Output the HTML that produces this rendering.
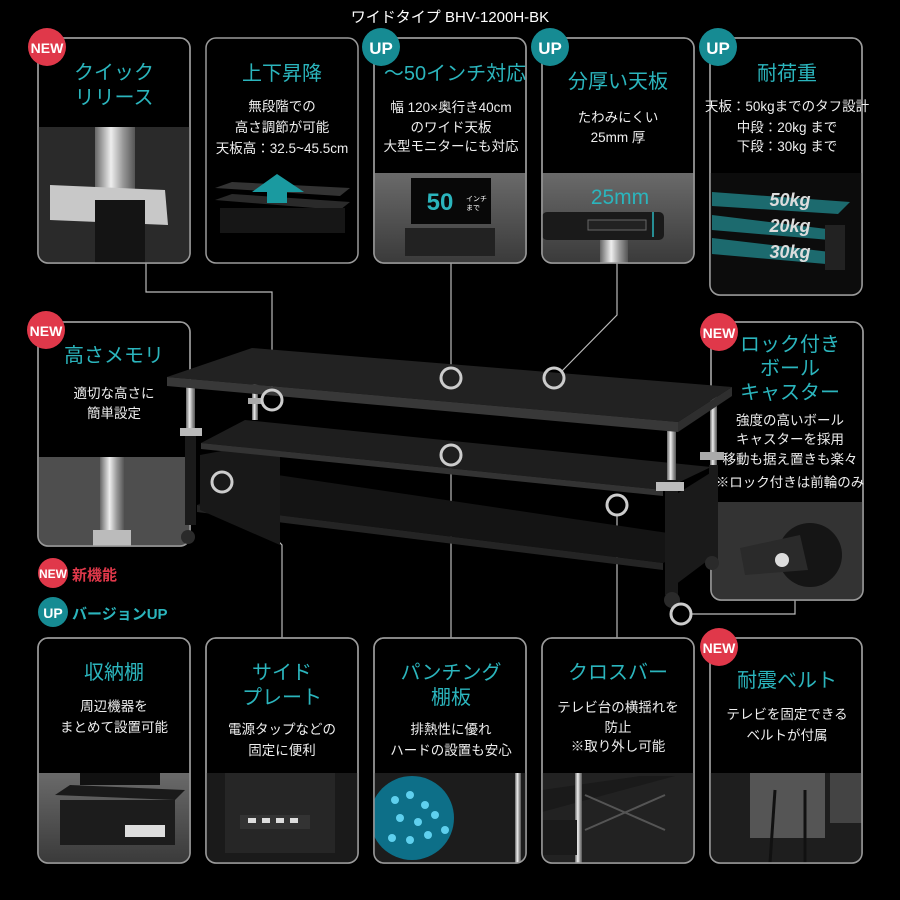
<!DOCTYPE html>
<html><head><meta charset="utf-8"><style>
html,body{margin:0;padding:0;background:#000;}
svg{display:block}
text{font-family:"Liberation Sans","Noto Sans CJK JP",sans-serif;}
.t{fill:#2bb5bd;font-size:20px;text-anchor:middle}
.b{fill:#eee;font-size:13.5px;text-anchor:middle}
.card{fill:#000;stroke:#9a9a9a;stroke-width:1.5}
.ln{stroke:#bbb;stroke-width:1.2;fill:none}
.cir{stroke:#ccc;stroke-width:3;fill:none}
.bdg{font-family:"Liberation Sans",sans-serif;font-weight:bold;fill:#fff;text-anchor:middle}
</style></head><body>
<svg width="900" height="900" viewBox="0 0 900 900" xmlns="http://www.w3.org/2000/svg">
<defs>
<linearGradient id="chrome" x1="0" x2="1"><stop offset="0" stop-color="#666"/><stop offset=".4" stop-color="#eee"/><stop offset=".7" stop-color="#999"/><stop offset="1" stop-color="#555"/></linearGradient>
<linearGradient id="grey" x1="0" y1="0" x2="0" y2="1"><stop offset="0" stop-color="#6a6a6a"/><stop offset="1" stop-color="#3a3a3a"/></linearGradient>
<clipPath id="c1"><rect x="38" y="38" width="152" height="225" rx="10"/></clipPath>
<clipPath id="c3"><rect x="374" y="38" width="152" height="225" rx="10"/></clipPath>
<clipPath id="c4"><rect x="542" y="38" width="152" height="225" rx="10"/></clipPath>
<clipPath id="c5"><rect x="710" y="38" width="152" height="257" rx="10"/></clipPath>
<clipPath id="cm1"><rect x="38" y="322" width="152" height="224" rx="10"/></clipPath>
<clipPath id="cm2"><rect x="711" y="322" width="152" height="278" rx="10"/></clipPath>
<clipPath id="b1"><rect x="38" y="638" width="152" height="225" rx="10"/></clipPath>
<clipPath id="b2"><rect x="206" y="638" width="152" height="225" rx="10"/></clipPath>
<clipPath id="b3"><rect x="374" y="638" width="152" height="225" rx="10"/></clipPath>
<clipPath id="b4"><rect x="542" y="638" width="152" height="225" rx="10"/></clipPath>
<clipPath id="b5"><rect x="710" y="638" width="152" height="225" rx="10"/></clipPath>
</defs>

<text x="450" y="22" fill="#fff" font-size="15" text-anchor="middle">ワイドタイプ BHV-1200H-BK</text>

<!-- connectors -->
<path class="ln" d="M146 263 V292 H272 V389"/>
<path class="ln" d="M451 263 V367"/>
<path class="ln" d="M617 263 V315 L562 371"/>
<path class="ln" d="M795 600 V614 H692"/>
<path class="ln" d="M451 466 V638"/>
<path class="ln" d="M282 638 V545 L230 491"/>
<path class="ln" d="M617 516 V638"/>

<!-- Top cards -->
<rect class="card" x="38" y="38" width="152" height="225" rx="10"/>
<g clip-path="url(#c1)"><rect x="38" y="127" width="152" height="136" fill="#2a2a2a"/><rect x="95" y="127" width="40" height="70" fill="url(#chrome)"/><polygon points="50,185 165,190 168,225 50,220" fill="#c8c8c8"/><rect x="95" y="200" width="50" height="63" fill="#141414"/></g>
<rect x="38" y="38" width="152" height="225" rx="10" fill="none" stroke="#9a9a9a" stroke-width="1.5"/>
<text class="t" x="114" y="79">クイック</text><text class="t" x="114" y="104">リリース</text>

<rect class="card" x="206" y="38" width="152" height="225" rx="10"/>
<text class="t" x="282" y="80">上下昇降</text>
<text class="b" x="282" y="111">無段階での</text><text class="b" x="282" y="132">高さ調節が可能</text><text class="b" x="282" y="153">天板高：32.5~45.5cm</text>
<polygon points="215,188 232,182 350,188 340,196" fill="#333"/>
<polygon points="215,200 232,194 350,202 340,210" fill="#2a2a2a"/>
<rect x="220" y="208" width="125" height="25" fill="#161616"/>
<polygon points="277,174 252,192 267,192 267,203 287,203 287,192 304,192" fill="#1a9aa0"/>

<rect class="card" x="374" y="38" width="152" height="225" rx="10"/>
<g clip-path="url(#c3)"><rect x="374" y="173" width="152" height="90" fill="url(#grey)"/><rect x="411" y="178" width="80" height="46" fill="#080808"/><rect x="405" y="228" width="90" height="28" fill="#222"/></g>
<rect x="374" y="38" width="152" height="225" rx="10" fill="none" stroke="#9a9a9a" stroke-width="1.5"/>
<text class="t" x="455" y="80" font-size="18">～50インチ対応</text>
<text class="b" x="451" y="112" font-size="13">幅 120×奥行き40cm</text><text class="b" x="451" y="132" font-size="13">のワイド天板</text><text class="b" x="451" y="151" font-size="13">大型モニターにも対応</text>
<text x="440" y="210" fill="#2bb5bd" font-size="24" font-weight="bold" text-anchor="middle">50</text>
<text x="466" y="201" fill="#fff" font-size="7">インチ</text><text x="466" y="210" fill="#fff" font-size="7">まで</text>

<rect class="card" x="542" y="38" width="152" height="225" rx="10"/>
<g clip-path="url(#c4)"><rect x="542" y="173" width="152" height="90" fill="url(#grey)"/><rect x="542" y="212" width="122" height="28" rx="5" fill="#1a1a1a"/><rect x="600" y="240" width="28" height="23" fill="url(#chrome)"/><rect x="588" y="220" width="58" height="10" fill="#222" stroke="#666"/></g>
<rect x="542" y="38" width="152" height="225" rx="10" fill="none" stroke="#9a9a9a" stroke-width="1.5"/>
<text class="t" x="618" y="88">分厚い天板</text>
<text class="b" x="618" y="122">たわみにくい</text><text class="b" x="618" y="142">25mm 厚</text>
<text x="620" y="204" fill="#2bb5bd" font-size="21" text-anchor="middle">25mm</text>
<line x1="653" y1="212" x2="653" y2="237" stroke="#2bb5bd" stroke-width="1.5"/>

<rect class="card" x="710" y="38" width="152" height="257" rx="10"/>
<g clip-path="url(#c5)"><rect x="710" y="173" width="152" height="122" fill="#0c0c0c"/>
<polygon points="712,192 850,202 838,214 712,206" fill="#1c6a6e"/>
<polygon points="712,215 835,230 830,240 712,230" fill="#1c6a6e"/>
<polygon points="712,238 830,252 826,264 712,254" fill="#1c6a6e"/>
<rect x="825" y="225" width="20" height="45" fill="#222"/>
<text x="790" y="206" fill="#ddd" font-size="18" font-weight="bold" font-style="italic" text-anchor="middle">50kg</text>
<text x="790" y="232" fill="#ddd" font-size="18" font-weight="bold" font-style="italic" text-anchor="middle">20kg</text>
<text x="790" y="258" fill="#ddd" font-size="18" font-weight="bold" font-style="italic" text-anchor="middle">30kg</text>
</g>
<rect x="710" y="38" width="152" height="257" rx="10" fill="none" stroke="#9a9a9a" stroke-width="1.5"/>
<text class="t" x="787" y="80">耐荷重</text>
<text class="b" x="787" y="111" font-size="12.5">天板：50kgまでのタフ設計</text><text class="b" x="787" y="132" font-size="13">中段：20kg まで</text><text class="b" x="787" y="151" font-size="13">下段：30kg まで</text>

<!-- middle left -->
<rect class="card" x="38" y="322" width="152" height="224" rx="10"/>
<g clip-path="url(#cm1)"><rect x="38" y="457" width="152" height="89" fill="#4e4e4e"/><rect x="100" y="457" width="24" height="75" fill="url(#chrome)"/><rect x="93" y="530" width="38" height="16" fill="#bbb"/></g>
<rect x="38" y="322" width="152" height="224" rx="10" fill="none" stroke="#9a9a9a" stroke-width="1.5"/>
<text class="t" x="114" y="362">高さメモリ</text>
<text class="b" x="114" y="398">適切な高さに</text><text class="b" x="114" y="418">簡単設定</text>

<!-- middle right -->
<rect class="card" x="711" y="322" width="152" height="278" rx="10"/>
<g clip-path="url(#cm2)"><rect x="711" y="502" width="152" height="98" fill="#333"/><circle cx="810" cy="555" r="32" fill="#151515"/><polygon points="740,548 800,535 808,570 745,575" fill="#2a2a2a"/><circle cx="782" cy="560" r="7" fill="#ddd"/></g>
<rect x="711" y="322" width="152" height="278" rx="10" fill="none" stroke="#9a9a9a" stroke-width="1.5"/>
<text class="t" x="790" y="351" font-size="21">ロック付き</text><text class="t" x="790" y="375" font-size="21">ボール</text><text class="t" x="790" y="399" font-size="21">キャスター</text>
<text class="b" x="790" y="425" font-size="13">強度の高いボール</text><text class="b" x="790" y="444" font-size="13">キャスターを採用</text><text class="b" x="790" y="464" font-size="13">移動も据え置きも楽々</text>
<text class="b" x="790" y="487" font-size="10.5">※ロック付きは前輪のみ</text>

<!-- table (drawn over cards) -->
<g>
<rect x="252" y="380" width="6" height="40" fill="url(#chrome)"/>
<rect x="710" y="395" width="7" height="70" fill="url(#chrome)"/>
<rect x="709" y="465" width="9" height="100" fill="#1a1a1a"/>
<polygon points="197,505 264,473 715,540 663,563" fill="#141414"/>
<polygon points="197,505 663,563 663,570 197,512" fill="#242424"/>
<polygon points="200,455 280,440 280,545 200,510" fill="#181818"/>
<polygon points="675,495 715,470 715,555 675,585" fill="#1a1a1a"/>
<polygon points="201,443 245,420 711,467 663,490" fill="#1e1e1e"/>
<polygon points="201,443 663,490 663,496 201,449" fill="#333"/>
<rect x="186" y="385" width="9" height="45" fill="url(#chrome)"/>
<rect x="185" y="430" width="11" height="95" fill="#1a1a1a"/>
<rect x="180" y="428" width="22" height="8" fill="#bbb"/>
<rect x="667" y="425" width="9" height="55" fill="url(#chrome)"/>
<rect x="665" y="480" width="13" height="115" fill="#1a1a1a"/>
<rect x="656" y="482" width="28" height="9" fill="#bbb"/>
<rect x="700" y="452" width="24" height="8" fill="#aaa"/>
<circle cx="188" cy="537" r="7" fill="#2a2a2a"/>
<circle cx="672" cy="600" r="8" fill="#2a2a2a"/>
<circle cx="712" cy="563" r="7" fill="#2a2a2a"/>
<rect x="248" y="398" width="14" height="6" fill="#aaa"/>
<polygon points="167,377 252,348 732,387 678,422" fill="#222"/>
<polygon points="167,377 678,422 678,432 167,386" fill="#383838"/>
<polygon points="678,422 732,387 732,396 678,432" fill="#2e2e2e"/>
</g>
<circle class="cir" cx="272" cy="400" r="10"/>
<circle class="cir" cx="451" cy="378" r="10"/>
<circle class="cir" cx="554" cy="378" r="10"/>
<circle class="cir" cx="451" cy="455" r="10"/>
<circle class="cir" cx="222" cy="482" r="10"/>
<circle class="cir" cx="617" cy="505" r="10"/>
<circle class="cir" cx="681" cy="614" r="10"/>

<!-- legend -->
<circle cx="53" cy="573" r="15" fill="#e0384a"/><text class="bdg" x="53" y="578" font-size="12">NEW</text>
<text x="72" y="580" fill="#e0384a" font-size="15" font-weight="bold">新機能</text>
<circle cx="53" cy="612" r="15" fill="#168b93"/><text class="bdg" x="53" y="618" font-size="14">UP</text>
<text x="72" y="619" fill="#2bb5bd" font-size="15" font-weight="bold">バージョンUP</text>

<!-- bottom cards -->
<rect class="card" x="38" y="638" width="152" height="225" rx="10"/>
<g clip-path="url(#b1)"><rect x="38" y="773" width="152" height="90" fill="url(#grey)"/><rect x="80" y="773" width="80" height="12" fill="#111"/><polygon points="55,795 70,785 185,790 175,800" fill="#1a1a1a"/><rect x="60" y="800" width="115" height="45" fill="#1c1c1c"/><rect x="125" y="825" width="40" height="12" fill="#ddd"/></g>
<rect x="38" y="638" width="152" height="225" rx="10" fill="none" stroke="#9a9a9a" stroke-width="1.5"/>
<text class="t" x="114" y="679">収納棚</text>
<text class="b" x="114" y="711">周辺機器を</text><text class="b" x="114" y="732">まとめて設置可能</text>

<rect class="card" x="206" y="638" width="152" height="225" rx="10"/>
<g clip-path="url(#b2)"><rect x="206" y="773" width="152" height="90" fill="#1a1a1a"/><rect x="225" y="773" width="110" height="80" fill="#262626"/><rect x="240" y="815" width="70" height="14" fill="#333"/><rect x="248" y="818" width="8" height="5" fill="#ddd"/><rect x="262" y="818" width="8" height="5" fill="#ddd"/><rect x="276" y="818" width="8" height="5" fill="#ddd"/><rect x="290" y="818" width="8" height="5" fill="#ddd"/></g>
<rect x="206" y="638" width="152" height="225" rx="10" fill="none" stroke="#9a9a9a" stroke-width="1.5"/>
<text class="t" x="282" y="679">サイド</text><text class="t" x="282" y="704">プレート</text>
<text class="b" x="282" y="734">電源タップなどの</text><text class="b" x="282" y="755">固定に便利</text>

<rect class="card" x="374" y="638" width="152" height="225" rx="10"/>
<g clip-path="url(#b3)"><rect x="374" y="773" width="152" height="90" fill="#1c1c1c"/><rect x="515" y="773" width="6" height="90" fill="url(#chrome)"/><circle cx="412" cy="818" r="42" fill="#0d6f88"/><g fill="#5fd0ee"><circle cx="395" cy="800" r="4"/><circle cx="410" cy="795" r="4"/><circle cx="425" cy="805" r="4"/><circle cx="400" cy="818" r="4"/><circle cx="418" cy="822" r="4"/><circle cx="435" cy="815" r="4"/><circle cx="392" cy="838" r="4"/><circle cx="410" cy="840" r="4"/><circle cx="428" cy="835" r="4"/><circle cx="445" cy="830" r="4"/></g></g>
<rect x="374" y="638" width="152" height="225" rx="10" fill="none" stroke="#9a9a9a" stroke-width="1.5"/>
<text class="t" x="451" y="679">パンチング</text><text class="t" x="451" y="704">棚板</text>
<text class="b" x="451" y="734">排熱性に優れ</text><text class="b" x="451" y="755">ハードの設置も安心</text>

<rect class="card" x="542" y="638" width="152" height="225" rx="10"/>
<g clip-path="url(#b4)"><rect x="542" y="773" width="152" height="90" fill="#222"/><polygon points="542,790 640,776 675,776 542,812" fill="#1a1a1a"/><rect x="575" y="773" width="7" height="90" fill="url(#chrome)"/><line x1="585" y1="795" x2="665" y2="830" stroke="#555" stroke-width="2"/><line x1="585" y1="830" x2="665" y2="795" stroke="#555" stroke-width="2"/><rect x="542" y="820" width="35" height="35" fill="#1a1a1a"/></g>
<rect x="542" y="638" width="152" height="225" rx="10" fill="none" stroke="#9a9a9a" stroke-width="1.5"/>
<text class="t" x="618" y="679">クロスバー</text>
<text class="b" x="618" y="712">テレビ台の横揺れを</text><text class="b" x="618" y="732">防止</text><text class="b" x="618" y="751">※取り外し可能</text>

<rect class="card" x="710" y="638" width="152" height="225" rx="10"/>
<g clip-path="url(#b5)"><rect x="710" y="773" width="152" height="90" fill="#1e1e1e"/><rect x="750" y="773" width="75" height="65" fill="#555"/><rect x="830" y="773" width="32" height="50" fill="#444"/><line x1="775" y1="790" x2="770" y2="863" stroke="#111" stroke-width="3"/><line x1="805" y1="790" x2="805" y2="863" stroke="#111" stroke-width="3"/></g>
<rect x="710" y="638" width="152" height="225" rx="10" fill="none" stroke="#9a9a9a" stroke-width="1.5"/>
<text class="t" x="787" y="687">耐震ベルト</text>
<text class="b" x="787" y="719">テレビを固定できる</text><text class="b" x="787" y="740">ベルトが付属</text>

<!-- badges -->
<circle cx="47" cy="47" r="19" fill="#e0384a"/><text class="bdg" x="47" y="53" font-size="14">NEW</text>
<circle cx="381" cy="47" r="19" fill="#168b93"/><text class="bdg" x="381" y="54" font-size="17">UP</text>
<circle cx="550" cy="47" r="19" fill="#168b93"/><text class="bdg" x="550" y="54" font-size="17">UP</text>
<circle cx="718" cy="47" r="19" fill="#168b93"/><text class="bdg" x="718" y="54" font-size="17">UP</text>
<circle cx="46" cy="330" r="19" fill="#e0384a"/><text class="bdg" x="46" y="336" font-size="14">NEW</text>
<circle cx="719" cy="332" r="19" fill="#e0384a"/><text class="bdg" x="719" y="338" font-size="14">NEW</text>
<circle cx="719" cy="647" r="19" fill="#e0384a"/><text class="bdg" x="719" y="653" font-size="14">NEW</text>
</svg>
</body></html>
